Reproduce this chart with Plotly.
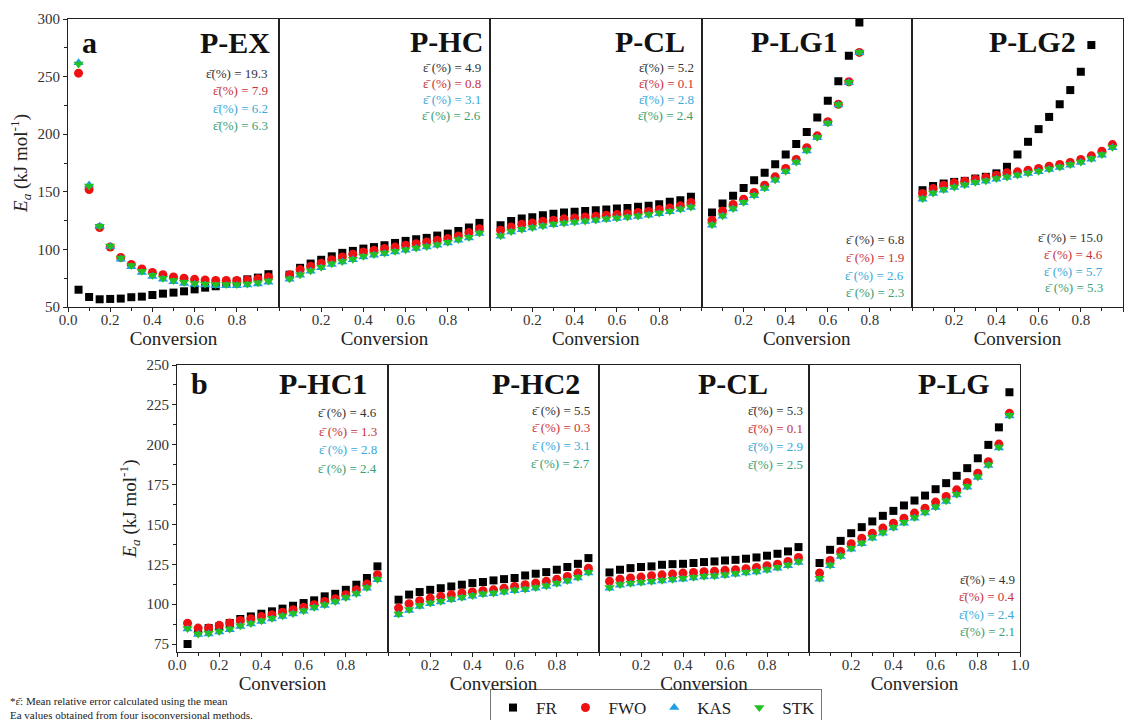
import plotly.graph_objects as go

# ---------------- data ----------------
alpha = [0.05, 0.10, 0.15, 0.20, 0.25, 0.30, 0.35, 0.40, 0.45, 0.50,
         0.55, 0.60, 0.65, 0.70, 0.75, 0.80, 0.85, 0.90, 0.95]

methods = ["FR", "FWO", "KAS", "STK"]

# (a) row
pex_fr = [65.0, 58.7, 56.7, 57.0, 57.3, 58.5, 59.0, 60.4, 61.6, 62.5, 63.6, 65.3, 66.8, 68.0, 70.0, 72.0, 74.0, 75.5, 78.5]
pex_fwo = [253, 152, 119, 102, 93, 87, 83, 80, 78, 76, 75, 74, 73.5, 73, 73, 73, 73.5, 74.5, 76]
pex_kas = [262, 156, 120, 102.5, 91.5, 85, 80, 76.5, 74, 72, 70.5, 69.5, 69, 68.5, 68.5, 68.5, 69, 70, 71.5]
pex_stk = [261, 155, 120, 103, 92.5, 86, 81, 77.5, 75, 73, 71.5, 70.5, 70, 69.5, 69.5, 69.5, 70, 71, 72.5]

phc_fr = [78, 84, 87.7, 91, 94, 97, 98.7, 100.7, 102, 103.6, 105.6, 107.4, 108.8, 110, 112, 113.7, 116, 119, 123]
phc_fwo = [78, 82.5, 85.3, 88, 91, 93.5, 95.8, 97.8, 99.2, 100.7, 102, 103.6, 105, 106.5, 108, 109.4, 111.7, 114.6, 118]
phc_kas = [74, 77.5, 81, 84, 87, 89, 91, 93.5, 95, 96.3, 97.8, 99.2, 100.7, 102, 103.6, 105.6, 108, 110, 113.7]
phc_stk = [74.5, 78, 81.5, 84.5, 87.5, 89.5, 91.5, 94, 95.5, 96.8, 98.3, 99.7, 101.2, 102.5, 104.1, 106.1, 108.5, 110.5, 114.2]

pcl_fr = [121, 124.7, 126.8, 128, 129.7, 131, 132, 132.6, 133.4, 134, 134.6, 135.5, 136, 137, 137.8, 139.2, 141.3, 142.7, 145.6]
pcl_fwo = [116.6, 119.5, 121.8, 123, 124.4, 125.3, 126.5, 127.3, 128.2, 128.8, 129.7, 130.2, 131, 132, 133, 134.6, 136, 137.8, 140.7]
pcl_kas = [111.4, 115, 117, 118.6, 120, 121.5, 122.4, 123.3, 124.2, 125, 126, 126.8, 127.6, 128.5, 129.7, 131, 132.6, 134.6, 136.3]
pcl_stk = [111.9, 115.5, 117.5, 119.1, 120.5, 122, 122.9, 123.8, 124.7, 125.5, 126.5, 127.3, 128.1, 129, 130.2, 131.5, 133.1, 135.1, 136.8]

plg1_fr = [132, 139.8, 146.5, 153.4, 160, 166.5, 174, 182.4, 191.4, 202, 214.5, 229, 246, 268, 297]
plg1_fwo = [125.3, 133.4, 139, 143.6, 149.4, 155.7, 163, 170.2, 178, 188.2, 198.6, 210.8, 226, 245.5, 271]
plg1_kas = [121, 128.8, 135, 140.4, 146.5, 152.8, 160, 167.3, 175.4, 185.5, 196.9, 209.3, 225.3, 244.7, 270.7]
plg1_stk = [121.5, 129.3, 135.5, 140.9, 147, 153.3, 160.5, 167.8, 175.9, 186, 197.4, 209.8, 225.8, 245.2, 271.2]

plg2_fr = [151.4, 155, 157.2, 158.6, 159.5, 161.5, 163, 166, 171.7, 182.4, 193.4, 204.4, 215, 226, 238.3, 254.2, 277.4]
plg2_fwo = [148.5, 152.8, 155.7, 157.8, 159.2, 161, 162.4, 164.4, 166.5, 167.3, 168.8, 170.2, 172.2, 173.7, 175.4, 178, 181.2, 185.3, 191]
plg2_kas = [143.6, 148.5, 151.4, 153.7, 155.7, 157.8, 159.2, 161, 162.4, 164.1, 165.9, 167.3, 169.3, 171, 173.1, 175.4, 178.3, 181.8, 188.2]
plg2_stk = [144.1, 149, 151.9, 154.2, 156.2, 158.3, 159.7, 161.5, 162.9, 164.6, 166.4, 167.8, 169.8, 171.5, 173.6, 175.9, 178.8, 182.3, 188.7]

# (b) row
phc1_fr = [75, 83.5, 85, 86, 88.2, 90.7, 92.3, 94, 95.5, 97.2, 99, 100.7, 102.4, 104.9, 106.5, 109, 112.2, 116.4, 123.7]
phc1_fwo = [88, 85, 85, 86.7, 88.2, 89.8, 90.9, 92.3, 93.4, 94.9, 96.5, 98, 99.7, 101.7, 103.4, 105.9, 109, 112.6, 118.5]
phc1_kas = [84.4, 80.9, 81.3, 82.5, 84, 86, 87.5, 89.2, 90.7, 92.3, 93.8, 95.5, 97.6, 99.2, 101.3, 103.8, 106.3, 110, 115.3]
phc1_stk = [84.8, 81.3, 81.7, 82.9, 84.4, 86.4, 87.9, 89.6, 91.1, 92.7, 94.2, 95.9, 98, 99.6, 101.7, 104.2, 106.7, 110.4, 115.7]

phc2_fr = [102.8, 106, 107.6, 109, 110, 111.1, 112.2, 113.2, 113.9, 114.9, 115.7, 116.4, 118, 119.1, 120.1, 121.6, 123.3, 125.3, 128.9]
phc2_fwo = [97.6, 100.3, 102.2, 103.8, 104.9, 106, 107, 107.6, 108.4, 109, 110, 111.1, 112.2, 113.2, 114.3, 115.7, 117.4, 119.5, 122.6]
phc2_kas = [93.4, 96.1, 98.6, 100.3, 101.3, 102.8, 103.8, 104.9, 106, 106.5, 107.4, 108.4, 109, 110, 111.1, 112.6, 114.3, 116.4, 119.5]
phc2_stk = [93.9, 96.6, 99.1, 100.8, 101.8, 103.3, 104.3, 105.4, 106.5, 107, 107.9, 108.9, 109.5, 110.5, 111.6, 113.1, 114.8, 116.9, 120]

pclb_fr = [119.9, 121.6, 122.6, 123.3, 123.7, 124.7, 125.1, 125.3, 125.8, 126.4, 126.8, 127.4, 127.8, 128.5, 129.3, 130.4, 131.6, 133.1, 135.8]
pclb_fwo = [114.3, 115.7, 116.4, 117, 117.8, 118.4, 118.9, 119.5, 119.9, 120.3, 120.7, 121.2, 121.6, 122.2, 123, 124.1, 125.1, 126.8, 129.3]
pclb_kas = [110, 111.8, 112.6, 113.2, 113.9, 114.5, 115.1, 115.7, 116.4, 117, 117.4, 118, 118.7, 119.5, 120.1, 121.2, 122.6, 124.1, 126.2]
pclb_stk = [110.5, 112.3, 113.1, 113.7, 114.4, 115, 115.6, 116.2, 116.9, 117.5, 117.9, 118.5, 119.2, 120, 120.6, 121.7, 123.1, 124.6, 126.7]

plg_fr = [125.8, 134.1, 139.7, 144.5, 148.3, 151.9, 155.4, 158.5, 161.9, 165, 168.1, 172.1, 175.9, 180.5, 185.3, 191.5, 199.9, 210.9, 232.9]
plg_fwo = [119.5, 127.4, 133.1, 137.9, 141.4, 144.5, 147.7, 150.8, 153.9, 157.1, 160.2, 164, 167.5, 171.7, 176.3, 182.1, 189.3, 200.4, 219.7]
plg_kas = [115.7, 124.1, 129.9, 134.5, 137.9, 141.4, 144.5, 147.7, 150.8, 153.9, 157.1, 160.6, 164.4, 168.5, 173.4, 179.4, 186.9, 198, 218]
plg_stk = [116.2, 124.6, 130.4, 135, 138.4, 141.9, 145, 148.2, 151.3, 154.4, 157.6, 161.1, 164.9, 169, 173.9, 179.9, 187.4, 198.5, 218.5]

panel_names = ["P-EX", "P-HC", "P-CL", "P-LG1", "P-LG2", "P-HC1", "P-HC2", "P-CL", "P-LG"]
panel_series = [
    [pex_fr, pex_fwo, pex_kas, pex_stk],
    [phc_fr, phc_fwo, phc_kas, phc_stk],
    [pcl_fr, pcl_fwo, pcl_kas, pcl_stk],
    [plg1_fr, plg1_fwo, plg1_kas, plg1_stk],
    [plg2_fr, plg2_fwo, plg2_kas, plg2_stk],
    [phc1_fr, phc1_fwo, phc1_kas, phc1_stk],
    [phc2_fr, phc2_fwo, phc2_kas, phc2_stk],
    [pclb_fr, pclb_fwo, pclb_kas, pclb_stk],
    [plg_fr, plg_fwo, plg_kas, plg_stk],
]
# mean relative errors (FR, FWO, KAS, STK)
panel_eps = [
    ["19.3", "7.9", "6.2", "6.3"],
    ["4.9", "0.8", "3.1", "2.6"],
    ["5.2", "0.1", "2.8", "2.4"],
    ["6.8", "1.9", "2.6", "2.3"],
    ["15.0", "4.6", "5.7", "5.3"],
    ["4.6", "1.3", "2.8", "2.4"],
    ["5.5", "0.3", "3.1", "2.7"],
    ["5.3", "0.1", "2.9", "2.5"],
    ["4.9", "0.4", "2.4", "2.1"],
]
EPS = "\u03b5\u0304"
eps_label = [EPS + "(%) = ", EPS + " (%) = ", EPS + "(%) = ", EPS + " (%) = ",
             EPS + " (%) = ", EPS + " (%) = ", EPS + " (%) = ", EPS + "(%) = ", EPS + "(%) = "]

# ---------------- styling / layout (positions, not data) ----------------
W, H = 1132, 720
FONT = "Times New Roman, Liberation Serif, Tinos, serif"
marker_styles = [
    dict(symbol="square", color="#000000", size=8),
    dict(symbol="circle", color="#ee1111", size=9),
    dict(symbol="triangle-up", color="#1e9ce6", size=9),
    dict(symbol="triangle-down", color="#22c022", size=9),
]
eps_colors = ["#333333", "#c8323a", "#3aa8d8", "#3a9e70"]

top_edges = [68, 279, 490, 701.5, 912, 1123]
bot_edges = [177, 388, 599, 809, 1020]
top_y = (19, 307)
bot_y = (365, 652)

panels = []
for i in range(5):
    panels.append(dict(x=(top_edges[i], top_edges[i + 1]), y=top_y, row=0, col=i))
for i in range(4):
    panels.append(dict(x=(bot_edges[i], bot_edges[i + 1]), y=bot_y, row=1, col=i))

title_pos = [(0.965, 0.918), (0.975, 0.922), (0.93, 0.922), (0.658, 0.922), (0.787, 0.922),
             (0.91, 0.937), (0.92, 0.937), (0.815, 0.937), (0.865, 0.937)]
eps_pos = [(0.958, 0.812, 0.061), (0.968, 0.833, 0.056), (0.972, 0.833, 0.056),
           (0.97, 0.233, 0.061), (0.915, 0.243, 0.059),
           (0.957, 0.833, 0.064), (0.967, 0.843, 0.062), (0.982, 0.840, 0.062), (0.986, 0.254, 0.061)]

fig = go.Figure()
layout = dict(
    width=W, height=H,
    margin=dict(l=0, r=0, t=0, b=0, autoexpand=False),
    paper_bgcolor="white", plot_bgcolor="white",
    font=dict(family=FONT, color="#222"),
    showlegend=True,
    legend=dict(orientation="h", x=490 / W, y=1 - 689 / H, xanchor="left", yanchor="top",
                bordercolor="#777", borderwidth=1, font=dict(family=FONT, size=17, color="#222"),
                bgcolor="white", itemwidth=36),
)
annotations = []

for k, p in enumerate(panels):
    s = "" if k == 0 else str(k + 1)
    series = panel_series[k]
    for m in range(4):
        vals = series[m]
        fig.add_trace(go.Scatter(
            x=alpha[:len(vals)], y=vals, mode="markers",
            marker=dict(symbol=marker_styles[m]["symbol"], color=marker_styles[m]["color"],
                        size=marker_styles[m]["size"], line=dict(width=0)),
            name=methods[m], legendgroup=methods[m], showlegend=(k == 0),
            xaxis="x" + s, yaxis="y" + s,
        ))
    first = p["col"] == 0
    last = (p["row"] == 0 and p["col"] == 4) or (p["row"] == 1 and p["col"] == 3)
    tv = [0.2, 0.4, 0.6, 0.8]
    if first:
        tv = [0.0] + tv
    if last:
        tv = tv + [1.0]
    layout["xaxis" + s] = dict(
        domain=[p["x"][0] / W, p["x"][1] / W], anchor="y" + s, range=[0, 1],
        tickmode="array", tickvals=tv, ticktext=["%.1f" % v for v in tv],
        ticks="outside", ticklen=4, tickwidth=1.2, tickcolor="#222",
        minor=dict(tickmode="linear", tick0=0, dtick=0.1, ticks="outside", ticklen=3, tickcolor="#222"),
        showline=True, mirror=True, linecolor="#222", linewidth=1.2,
        showgrid=False, zeroline=False, ticklabelstandoff=-5,
        tickfont=dict(family=FONT, size=15, color="#333"),
        title=dict(text="Conversion", font=dict(family=FONT, size=19, color="#222"), standoff=0),
    )
    if p["row"] == 0:
        yr, dt, t0, mdt = [50, 300], 50, 50, 25
    else:
        yr, dt, t0, mdt = [70, 250], 25, 75, 12.5
    ya = dict(
        domain=[1 - p["y"][1] / H, 1 - p["y"][0] / H], anchor="x" + s, range=yr,
        showline=True, mirror=True, linecolor="#222", linewidth=1.2,
        showgrid=False, zeroline=False,
    )
    if first:
        ya.update(tickmode="linear", tick0=t0, dtick=dt, ticks="outside", ticklen=4, tickwidth=1.2,
                  tickcolor="#222",
                  minor=dict(tickmode="linear", tick0=t0, dtick=mdt, ticks="outside", ticklen=3,
                             tickcolor="#222"),
                  tickfont=dict(family=FONT, size=15, color="#333"),
                  title=dict(text="<i>E<sub>a</sub></i> (kJ mol<sup>-1</sup>)",
                             font=dict(family=FONT, size=19, color="#222"), standoff=4))
    else:
        ya.update(showticklabels=False, ticks="")
    layout["yaxis" + s] = ya

    xr, yrf = "x" + s + " domain", "y" + s + " domain"
    tx, ty = title_pos[k]
    annotations.append(dict(text="<b>%s</b>" % panel_names[k], x=tx, y=ty, xref=xr, yref=yrf,
                            xanchor="right", yanchor="middle", showarrow=False,
                            font=dict(family=FONT, size=30, color="#111")))
    ex, ey, dy = eps_pos[k]
    for m in range(4):
        annotations.append(dict(text=eps_label[k] + panel_eps[k][m], x=ex, y=ey - m * dy,
                                xref=xr, yref=yrf, xanchor="right", yanchor="middle",
                                showarrow=False,
                                font=dict(family=FONT, size=13, color=eps_colors[m])))
    if first:
        annotations.append(dict(text="<b>%s</b>" % ("a" if p["row"] == 0 else "b"),
                                x=0.055, y=ty, xref=xr, yref=yrf, xanchor="left", yanchor="middle",
                                showarrow=False, font=dict(family=FONT, size=30, color="#111")))

annotations.append(dict(
    text="*" + EPS + ": Mean relative error calculated using the mean<br>"
         "Ea values obtained from four isoconversional methods.",
    x=8 / W, y=1 - 693 / H, xref="paper", yref="paper", xanchor="left", yanchor="top",
    align="left", showarrow=False, font=dict(family=FONT, size=11, color="#222")))

layout["annotations"] = annotations
fig.update_layout(**layout)
fig.write_html("out.html")
